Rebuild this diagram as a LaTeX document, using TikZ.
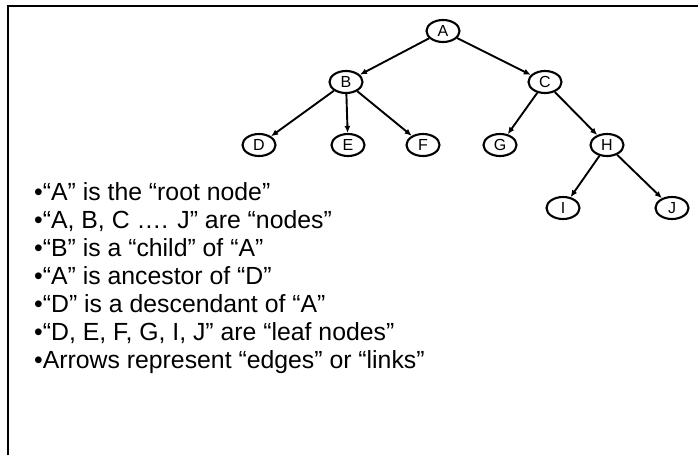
\documentclass[tikz,border=0pt]{standalone}
\usepackage{fontspec}
\setmainfont{Liberation Sans}
\usetikzlibrary{shapes.geometric,arrows.meta}
\begin{document}
\begin{tikzpicture}[x=1pt,y=-1pt,
  tnode/.style={ellipse,draw,line width=2.1pt,minimum width=33pt,minimum height=22pt,inner sep=0pt,font=\fontsize{16}{16}\selectfont},
  edge/.style={line width=1.9pt,-{Latex[length=7pt,width=6pt]}},
  bullet/.style={anchor=base west,inner sep=0pt,font=\fontsize{24.8}{28}\selectfont}]
\useasboundingbox (0,0) rectangle (698,455);
\draw[line width=2.2pt,line join=miter] (8,455) -- (8,6) -- (698,6);
\node[tnode] (A) at (443,31) {A};
\node[tnode] (B) at (346,82) {B};
\node[tnode] (C) at (545,82) {C};
\node[tnode] (D) at (259,145) {D};
\node[tnode] (E) at (348,145) {E};
\node[tnode] (F) at (423,145) {F};
\node[tnode] (G) at (500,145) {G};
\node[tnode] (H) at (607,145) {H};
\node[tnode] (I) at (563,208) {I};
\node[tnode] (J) at (672,208) {J};
\draw[edge] (A) -- (B);
\draw[edge] (A) -- (C);
\draw[edge] (B) -- (D);
\draw[edge] (B) -- (E);
\draw[edge] (B) -- (F);
\draw[edge] (C) -- (G);
\draw[edge] (C) -- (H);
\draw[edge] (H) -- (I);
\draw[edge] (H) -- (J);
\node[bullet] (t1) at (34,200) {•“A” is the “root node”};
\node[bullet] (t2) at (34,228) {•“A, B, C …. J” are “nodes”};
\node[bullet] (t3) at (34,256) {•“B” is a “child” of “A”};
\node[bullet] (t4) at (34,284) {•“A” is ancestor of “D”};
\node[bullet] (t5) at (34,312) {•“D” is a descendant of “A”};
\node[bullet] (t6) at (34,340) {•“D, E, F, G, I, J” are “leaf nodes”};
\node[bullet] (t7) at (34,368) {•Arrows represent “edges” or “links”};
\end{tikzpicture}
\end{document}
